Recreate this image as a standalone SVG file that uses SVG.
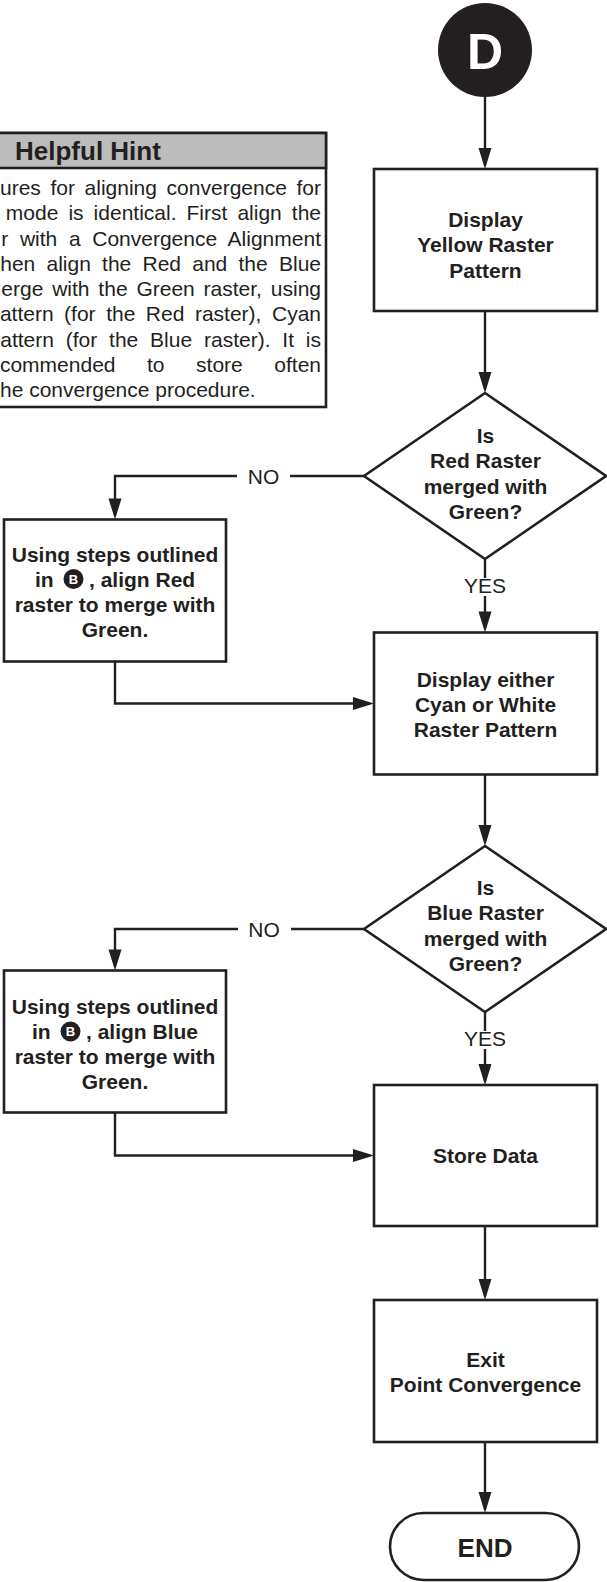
<svg xmlns="http://www.w3.org/2000/svg" width="607" height="1582" viewBox="0 0 607 1582">
<style>
.bx{fill:#fff;stroke:#231f20;stroke-width:2.6}
.cn{fill:none;stroke:#231f20;stroke-width:2.4}
.t{font-family:"Liberation Sans",Arial,sans-serif;font-weight:bold;font-size:21px;fill:#231f20;text-anchor:middle}
.lb{font-family:"Liberation Sans",Arial,sans-serif;font-size:21px;fill:#231f20;text-anchor:middle}
.bd{font-family:"Liberation Sans",Arial,sans-serif;font-size:21px;fill:#231f20;text-anchor:end}
.tl{font-family:"Liberation Sans",Arial,sans-serif;font-weight:bold;font-size:21px;fill:#231f20}
.cb{font-family:"Liberation Sans",Arial,sans-serif;font-weight:bold;font-size:13px;fill:#fff;text-anchor:middle}
</style>
<defs>
<marker id="ah" markerUnits="userSpaceOnUse" markerWidth="22" markerHeight="14" refX="17" refY="6.5" orient="auto" overflow="visible"><path d="M0,0 L21,6.5 L0,13 z" fill="#231f20"/></marker>
</defs>
<rect width="607" height="1582" fill="#fff"/>

<g id="hint">
<rect x="-10" y="133" width="336" height="274" class="bx"/>
<rect x="-10" y="133" width="336" height="35" fill="#bcbcbc" stroke="#231f20" stroke-width="2.6"/>
<text x="15" y="160" class="tl" style="font-size:26px">Helpful Hint</text>
<text x="321" y="195" class="bd" word-spacing="3.8">ures for aligning convergence for</text>
<text x="321" y="220.25" class="bd" word-spacing="4.2">mode is identical. First align the</text>
<text x="321" y="245.5" class="bd" word-spacing="5.8">r with a Convergence Alignment</text>
<text x="321" y="270.75" class="bd" word-spacing="5.4">hen align the Red and the Blue</text>
<text x="321" y="296" class="bd" word-spacing="3">erge with the Green raster, using</text>
<text x="321" y="321.25" class="bd" word-spacing="4.7">attern (for the Red raster), Cyan</text>
<text x="321" y="346.5" class="bd" word-spacing="6">attern (for the Blue raster). It is</text>
<text x="321" y="371.75" class="bd" word-spacing="25.7">commended to store often</text>
<text x="0" y="397" class="bd" style="text-anchor:start">he convergence procedure.</text>
</g>

<g id="connectors">
<path class="cn" d="M485,97 V165" marker-end="url(#ah)"/>
<path class="cn" d="M485,311 V389" marker-end="url(#ah)"/>
<path class="cn" d="M364,476 H290"/>
<path class="cn" d="M237,476 H115 V515.5" marker-end="url(#ah)"/>
<text x="263.5" y="484" class="lb">NO</text>
<path class="cn" d="M485,559 V578"/>
<path class="cn" d="M485,596 V628.5" marker-end="url(#ah)"/>
<text x="485" y="593" class="lb">YES</text>
<path class="cn" d="M115,661.5 V703.5 H370" marker-end="url(#ah)"/>
<path class="cn" d="M485,774.5 V842" marker-end="url(#ah)"/>
<path class="cn" d="M364,929 H291"/>
<path class="cn" d="M238,929 H115 V966.5" marker-end="url(#ah)"/>
<text x="264" y="937" class="lb">NO</text>
<path class="cn" d="M485,1012 V1031"/>
<path class="cn" d="M485,1049 V1081" marker-end="url(#ah)"/>
<text x="485" y="1046" class="lb">YES</text>
<path class="cn" d="M115,1112.5 V1155.5 H370" marker-end="url(#ah)"/>
<path class="cn" d="M485,1226 V1296" marker-end="url(#ah)"/>
<path class="cn" d="M485,1442 V1509" marker-end="url(#ah)"/>
</g>

<g id="start-D">
<circle cx="485" cy="50" r="47" fill="#231f20"/>
<text x="485" y="69" class="t" style="font-size:50px;fill:#fff">D</text>
</g>

<g id="display-yellow">
<rect x="374" y="169" width="223" height="142" class="bx"/>
<text x="485.5" y="226.5" class="t">Display</text>
<text x="485.5" y="252" class="t">Yellow Raster</text>
<text x="485.5" y="277.5" class="t">Pattern</text>
</g>

<g id="red-merged">
<path d="M485,393 L606,476 L485,559 L364,476 Z" class="bx"/>
<text x="485.5" y="443" class="t">Is</text>
<text x="485.5" y="468.3" class="t">Red Raster</text>
<text x="485.5" y="493.6" class="t">merged with</text>
<text x="485.5" y="519" class="t">Green?</text>
</g>

<g id="align-red">
<rect x="4" y="519.5" width="222" height="142" class="bx"/>
<text x="115" y="561.5" class="t">Using steps outlined</text>
<text x="35" y="586.5" class="tl">in</text>
<circle cx="73.5" cy="579" r="10" fill="#231f20"/>
<text x="73.5" y="583.6" class="cb">B</text>
<text x="89" y="586.5" class="tl">, align Red</text>
<text x="115" y="611.5" class="t">raster to merge with</text>
<text x="115" y="636.5" class="t">Green.</text>
</g>

<g id="display-cyan">
<rect x="374" y="632.5" width="223" height="142" class="bx"/>
<text x="485.5" y="687" class="t">Display either</text>
<text x="485.5" y="712" class="t">Cyan or White</text>
<text x="485.5" y="737" class="t">Raster Pattern</text>
</g>

<g id="blue-merged">
<path d="M485,846 L606,929 L485,1012 L364,929 Z" class="bx"/>
<text x="485.5" y="895" class="t">Is</text>
<text x="485.5" y="920.3" class="t">Blue Raster</text>
<text x="485.5" y="945.6" class="t">merged with</text>
<text x="485.5" y="971" class="t">Green?</text>
</g>

<g id="align-blue">
<rect x="4" y="970.5" width="222" height="142" class="bx"/>
<text x="115" y="1014" class="t">Using steps outlined</text>
<text x="32" y="1039" class="tl">in</text>
<circle cx="70.5" cy="1031.5" r="10" fill="#231f20"/>
<text x="70.5" y="1036.1" class="cb">B</text>
<text x="86" y="1039" class="tl">, align Blue</text>
<text x="115" y="1064" class="t">raster to merge with</text>
<text x="115" y="1089" class="t">Green.</text>
</g>

<g id="store-data">
<rect x="374" y="1085" width="223" height="141" class="bx"/>
<text x="485.5" y="1163" class="t">Store Data</text>
</g>

<g id="exit">
<rect x="374" y="1300" width="223" height="142" class="bx"/>
<text x="485.5" y="1366.5" class="t">Exit</text>
<text x="485.5" y="1392" class="t">Point Convergence</text>
</g>

<g id="end">
<rect x="390" y="1513" width="189" height="67" rx="33.5" class="bx"/>
<text x="485" y="1557" class="t" style="font-size:26px">END</text>
</g>
</svg>
